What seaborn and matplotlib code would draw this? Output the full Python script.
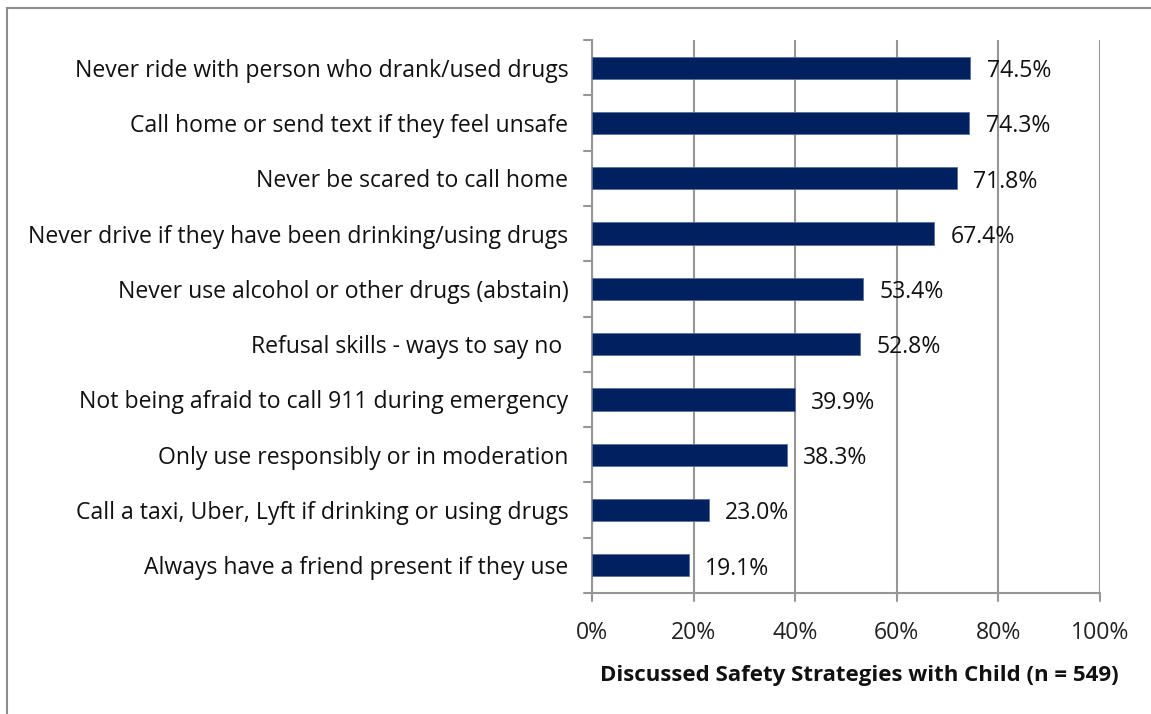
import matplotlib
matplotlib.use("Agg")
import matplotlib.pyplot as plt
import seaborn as sns
import pandas as pd
from matplotlib.patches import Rectangle

strategies = [
    "Never ride with person who drank/used drugs",
    "Call home or send text if they feel unsafe",
    "Never be scared to call home",
    "Never drive if they have been drinking/using drugs",
    "Never use alcohol or other drugs (abstain)",
    "Refusal skills - ways to say no ",
    "Not being afraid to call 911 during emergency",
    "Only use responsibly or in moderation",
    "Call a taxi, Uber, Lyft if drinking or using drugs",
    "Always have a friend present if they use",
]
percent = [74.5, 74.3, 71.8, 67.4, 53.4, 52.8, 39.9, 38.3, 23.0, 19.1]
x_ticks = [0, 20, 40, 60, 80, 100]
x_title = "Discussed Safety Strategies with Child (n = 549)"

df = pd.DataFrame({"strategy": strategies, "percent": percent})

sns.set_theme(style="white")
plt.rcParams["font.family"] = ["Open Sans", "DejaVu Sans"]

fig = plt.figure(figsize=(11.51, 7.14), dpi=100)
ax = fig.add_axes([592 / 1151, 1 - 593 / 714, 508 / 1151, 553 / 714])

navy = "#002060"
grid_c = "#969696"
fs = 16.6

sns.barplot(data=df, y="strategy", x="percent", orient="h", color=navy,
            width=0.4, saturation=1, edgecolor="#5a6f9a", linewidth=0.6,
            ax=ax, zorder=3)

ax.set_xlim(0, 100)
ax.set_ylim(len(strategies) - 0.5, -0.5)
ax.set_xticks(x_ticks)
ax.set_xticklabels([f"{t}%" for t in x_ticks], fontsize=fs, color="#222222")
ax.tick_params(axis="x", length=0, pad=20)
ax.set_yticks(range(len(strategies)))
ax.set_yticklabels(strategies, fontsize=fs, color="#111111")
ax.tick_params(axis="y", length=0, pad=17)
ax.set_xlabel("")
ax.set_ylabel("")

for t in x_ticks:
    ax.axvline(t, color=grid_c, lw=1.5, zorder=1)

for s in ["top", "right", "bottom"]:
    ax.spines[s].set_visible(False)
ax.spines["left"].set_color(grid_c)
ax.spines["left"].set_linewidth(1.5)
ax.axhline(len(strategies) - 0.5, color=grid_c, lw=1.5, zorder=2, clip_on=False)

# category boundary ticks on the left and tick marks below the axis
for k in range(len(strategies) + 1):
    ax.plot([-1.6, 0], [k - 0.5, k - 0.5], color=grid_c, lw=1.5,
            clip_on=False, zorder=2)
for t in x_ticks:
    ax.plot([t, t], [len(strategies) - 0.5, len(strategies) - 0.36],
            color=grid_c, lw=1.5, clip_on=False, zorder=2)

for i, v in enumerate(percent):
    ax.text(v + 3.2, i + 0.06, f"{v:.1f}%", va="center", ha="left",
            fontsize=fs, color="#111111", zorder=4)

fig.text(859 / 1151, 1 - 675 / 714, x_title, ha="center", va="center",
         fontsize=16, fontweight="bold", color="#111111")

fig.patches.append(Rectangle((7 / 1151, -0.1), 1.2, 1 - 8 / 714 + 0.1,
                             transform=fig.transFigure, fill=False,
                             edgecolor="#8c8c8c", lw=1.5))

fig.savefig("out.png", dpi=100)
